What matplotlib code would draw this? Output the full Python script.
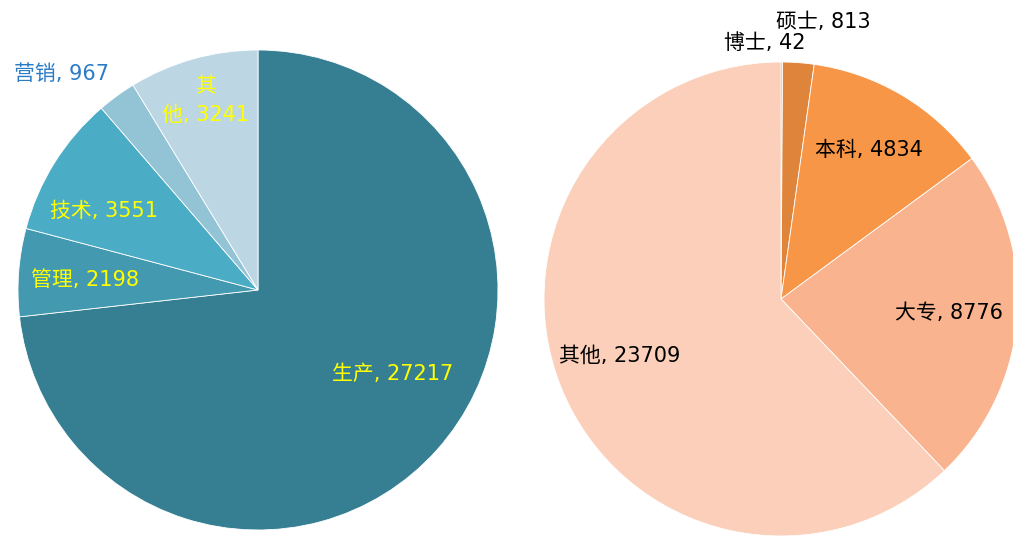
import matplotlib
matplotlib.use("Agg")
import matplotlib.pyplot as plt

plt.rcParams['font.family'] = ['DejaVu Sans', 'Noto Sans CJK SC']

# left pie: by job type
job_names = ["生产", "管理", "技术", "营销", "其他"]
job_values = [27217, 2198, 3551, 967, 3241]
job_colors = ["#367f93", "#4299b0", "#4bacc6", "#93c4d6", "#bcd7e3"]
job_label_xy = [(0.56, -0.35), (-0.72, 0.04), (-0.64, 0.33), (-0.82, 0.90), (-0.22, 0.79)]
job_label_colors = ["#ffff00", "#ffff00", "#ffff00", "#2a7cc7", "#ffff00"]

# right pie: by education
edu_names = ["博士", "硕士", "本科", "大专", "其他"]
edu_values = [42, 813, 4834, 8776, 23709]
edu_colors = ["#d9833b", "#de843b", "#f79646", "#f9b48f", "#fbcfb9"]
edu_label_xy = [(-0.07, 1.08), (0.18, 1.17), (0.37, 0.63), (0.71, -0.06), (-0.68, -0.24)]

fig = plt.figure(figsize=(10.13, 5.37), dpi=100)
ax1 = fig.add_axes([18/1013, 7/537, 480/1013, 480/537])
ax2 = fig.add_axes([544/1013, 1/537, 474/1013, 474/537])


def draw(ax, values, colors, names, label_xy, label_colors):
    ax.pie(values, colors=colors, startangle=90, counterclock=False,
           radius=1, wedgeprops=dict(edgecolor="white", linewidth=0.6))
    for name, v, (x, y), c in zip(names, values, label_xy, label_colors):
        txt = f"{name}, {v}"
        if name == "其他" and c == "#ffff00":
            txt = f"其\n他, {v}"
        ax.text(x, y, txt, ha="center", va="center", fontsize=15,
                color=c, clip_on=False, linespacing=1.5)
    ax.set_xlim(-1, 1)
    ax.set_ylim(-1, 1)
    ax.set_aspect("equal")
    ax.axis("off")


draw(ax1, job_values, job_colors, job_names, job_label_xy, job_label_colors)
draw(ax2, edu_values, edu_colors, edu_names, edu_label_xy, ["black"] * 5)

fig.savefig("out.png", dpi=100)
